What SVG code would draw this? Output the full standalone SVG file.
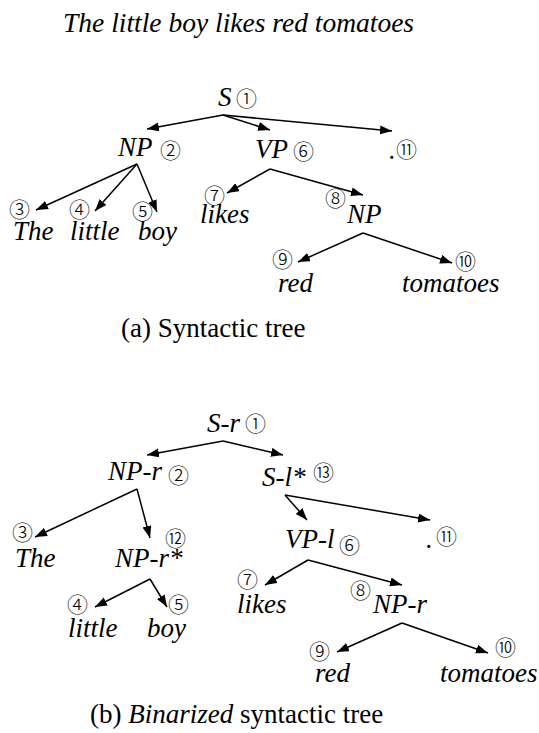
<svg xmlns="http://www.w3.org/2000/svg" width="539" height="733" viewBox="0 0 539 733">
<style>
.t{font-family:"Liberation Serif","Times New Roman",serif;font-style:italic;font-size:27px;fill:#000}
.c{font-family:"Noto Sans CJK JP","DejaVu Sans",sans-serif;font-size:21px;font-weight:300;fill:#000}
.cap{font-family:"Liberation Serif","Times New Roman",serif;font-size:27px;fill:#000}
.e{stroke:#000;stroke-width:1.5;fill:none;marker-end:url(#ah)}
</style>
<defs>
<marker id="ah" markerUnits="userSpaceOnUse" markerWidth="13" markerHeight="10" refX="12" refY="4.5" orient="auto"><path d="M0,0 L12,4.5 L0,9 z" fill="#000"/></marker>
</defs>
<rect width="539" height="733" fill="#fff"/>
<text class="t" x="63" y="32" style="font-size:27.5px">The little boy likes red tomatoes</text>
<g id="connectors">
<path class="e" d="M223,115 L147,129"/>
<path class="e" d="M223,115 L270,130"/>
<path class="e" d="M223,115 L392,131"/>
<path class="e" d="M137,164 L36,210"/>
<path class="e" d="M137,164 L95,211"/>
<path class="e" d="M137,164 L157,212"/>
<path class="e" d="M270,169 L227,193"/>
<path class="e" d="M270,169 L363,195"/>
<path class="e" d="M363,233 L298,262"/>
<path class="e" d="M363,233 L452,263"/>
<path class="e" d="M223,441 L147,455"/>
<path class="e" d="M223,441 L283,455"/>
<path class="e" d="M137,489 L35,537"/>
<path class="e" d="M137,489 L150,538"/>
<path class="e" d="M150,579 L95,607"/>
<path class="e" d="M150,579 L167,607"/>
<path class="e" d="M285,495 L307,520"/>
<path class="e" d="M285,495 L430,520"/>
<path class="e" d="M308,560 L265,585"/>
<path class="e" d="M308,560 L402,585"/>
<path class="e" d="M402,623 L337,652"/>
<path class="e" d="M402,623 L488,653"/>
</g>
<g id="a-S"><text class="t" x="218" y="106">S</text><text class="c" x="236" y="106">①</text></g>
<g id="a-NP"><text class="t" x="118" y="156">NP</text><text class="c" x="160" y="158">②</text></g>
<g id="a-VP"><text class="t" x="255" y="158">VP</text><text class="c" x="293" y="159">⑥</text></g>
<g id="a-dot"><text class="t" x="389" y="159">.</text><text class="c" x="396" y="157">⑪</text></g>
<g id="a-The"><text class="c" x="9" y="217">③</text><text class="t" x="13" y="240">The</text></g>
<g id="a-little"><text class="c" x="69" y="217">④</text><text class="t" x="70" y="240">little</text></g>
<g id="a-boy"><text class="c" x="132" y="219">⑤</text><text class="t" x="138" y="240">boy</text></g>
<g id="a-likes"><text class="c" x="204" y="203">⑦</text><text class="t" x="200" y="223">likes</text></g>
<g id="a-NP2"><text class="c" x="325" y="206">⑧</text><text class="t" x="347" y="223">NP</text></g>
<g id="a-red"><text class="c" x="272" y="267">⑨</text><text class="t" x="278" y="292">red</text></g>
<g id="a-tomatoes"><text class="c" x="455" y="269">⑩</text><text class="t" x="402" y="292">tomatoes</text></g>
<text class="cap" x="121" y="337">(a) Syntactic tree</text>
<g id="b-Sr"><text class="t" x="207" y="432">S-r</text><text class="c" x="245" y="431">①</text></g>
<g id="b-NPr"><text class="t" x="108" y="480">NP-r</text><text class="c" x="168" y="483">②</text></g>
<g id="b-Sl"><text class="t" x="262" y="486">S-l*</text><text class="c" x="313" y="480">⑬</text></g>
<g id="b-The"><text class="c" x="12" y="540">③</text><text class="t" x="15" y="567">The</text></g>
<g id="b-NPrs"><text class="c" x="165" y="546">⑫</text><text class="t" x="115" y="567">NP-r*</text></g>
<g id="b-little"><text class="c" x="67" y="612">④</text><text class="t" x="68" y="637">little</text></g>
<g id="b-boy"><text class="c" x="168" y="612">⑤</text><text class="t" x="147" y="637">boy</text></g>
<g id="b-VPl"><text class="t" x="285" y="548">VP-l</text><text class="c" x="339" y="553">⑥</text></g>
<g id="b-dot"><text class="t" x="426" y="548">.</text><text class="c" x="436" y="544">⑪</text></g>
<g id="b-likes"><text class="c" x="237" y="587">⑦</text><text class="t" x="237" y="613">likes</text></g>
<g id="b-NPr2"><text class="c" x="350" y="598">⑧</text><text class="t" x="373" y="613">NP-r</text></g>
<g id="b-red"><text class="c" x="309" y="659">⑨</text><text class="t" x="315" y="682">red</text></g>
<g id="b-tomatoes"><text class="c" x="495" y="655">⑩</text><text class="t" x="440" y="682">tomatoes</text></g>
<text class="cap" x="90" y="723">(b) <tspan font-style="italic">Binarized</tspan> syntactic tree</text>
</svg>
